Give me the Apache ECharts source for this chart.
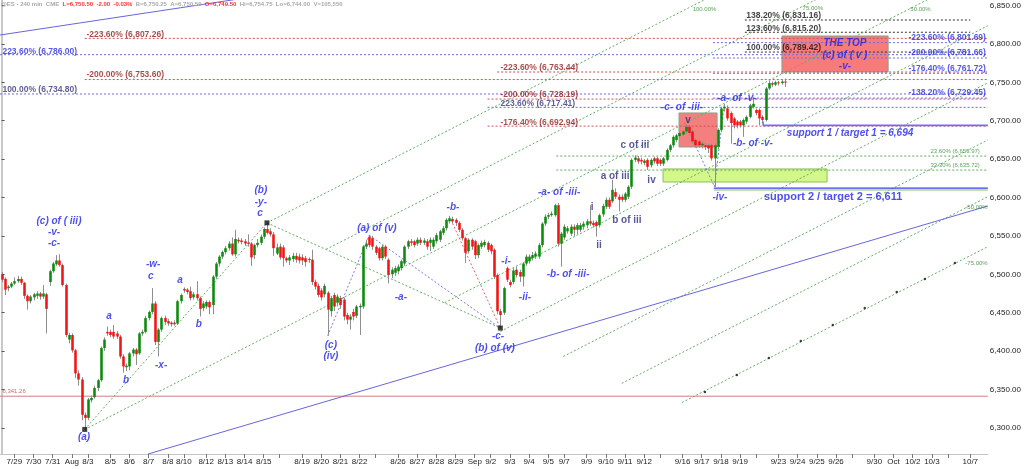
<!DOCTYPE html>
<html>
<head>
<meta charset="utf-8">
<script src="https://cdn.jsdelivr.net/npm/echarts@6/dist/echarts.min.js"></script>
<style>
  html, body { margin: 0; padding: 0; background: #fff; }
  #chart { width: 1024px; height: 469px; }
</style>
</head>
<body>
<div id="chart"></div>
<script>
// ES 240 min bars, [open, close, low, high], one row per bar from 7/28 10:00
const barsJulAug = [
  [6500,6493,6490,6503],[6494,6480,6473,6496],[6482,6484,6478,6486],[6484,6488,6482,6490],[6488,6491,6486,6496],
  [6491,6494,6489,6498],[6494,6489,6486,6497],[6489,6472,6468,6490],[6472,6465,6454,6474],[6465,6471,6462,6473],
  [6470,6474,6466,6476],[6472,6475,6468,6478],[6475,6471,6467,6477],[6471,6475,6468,6486],[6474,6455,6423,6476],
  [6490,6504,6485,6506],[6504,6514,6502,6516],[6513,6518,6511,6525],[6518,6512,6510,6526],[6512,6486,6484,6514],
  [6486,6421,6418,6488],[6415,6421,6410,6424],[6421,6401,6398,6423],[6401,6371,6365,6403],[6371,6363,6355,6375],
  [6363,6317,6310,6366],[6317,6313,6298,6320],[6313,6337,6310,6339],[6336,6339,6333,6342],[6340,6352,6338,6355],
  [6352,6362,6348,6364],[6362,6404,6360,6406],[6404,6415,6400,6418],[6425,6423,6420,6432],[6425,6421,6418,6428],
  [6425,6419,6416,6434],[6423,6419,6416,6426],[6419,6393,6390,6421],[6393,6380,6372,6396],[6379,6381,6374,6384],
  [6380,6397,6375,6399],[6397,6402,6393,6404],[6402,6396,6382,6404],[6397,6423,6395,6425],[6423,6425,6420,6428],
  [6425,6443,6423,6446],[6443,6451,6440,6453],[6451,6462,6448,6482],[6462,6412,6408,6465],[6412,6428,6393,6430]
];
const barsAug = [
  [6428,6443,6425,6445],[6443,6438,6434,6446],[6439,6436,6433,6442],[6437,6435,6432,6439],[6437,6435,6433,6440],
  [6436,6465,6434,6467],[6465,6473,6462,6475],[6481,6479,6476,6483],[6480,6477,6474,6482],[6478,6469,6466,6484],
  [6470,6474,6467,6477],[6474,6469,6466,6491],[6469,6455,6445,6471],[6456,6462,6452,6465],[6458,6464,6455,6466],
  [6464,6457,6448,6466],[6460,6497,6448,6499],[6497,6514,6494,6516],[6514,6523,6510,6525],[6523,6529,6520,6531],
  [6529,6534,6526,6537],[6534,6540,6531,6543],[6540,6526,6524,6548],[6526,6546,6523,6558],[6545,6543,6540,6548],
  [6544,6542,6539,6547],[6543,6540,6537,6546],[6541,6540,6536,6552],[6540,6522,6511,6542],[6525,6538,6520,6540],
  [6538,6541,6535,6546],[6541,6549,6538,6552],[6549,6559,6546,6561],[6559,6554,6552,6567],[6556,6552,6549,6560],
  [6552,6534,6524,6555],[6527,6535,6525,6540],[6536,6522,6519,6540],[6535,6521,6510,6538],[6521,6518,6515,6523],
  [6518,6522,6512,6525],[6520,6524,6516,6528],[6524,6519,6515,6528],[6523,6518,6514,6527],[6522,6518,6512,6526],
  [6521,6516,6510,6524],[6520,6519,6515,6522],[6519,6490,6486,6532],[6490,6484,6480,6493],[6485,6473,6470,6488]
];
const barsLateAug = [
  [6479,6470,6466,6482],[6474,6485,6470,6488],[6476,6454,6420,6478],[6452,6469,6445,6472],[6473,6458,6452,6476],
  [6463,6471,6458,6474],[6469,6460,6455,6472],[6467,6445,6440,6470],[6447,6441,6435,6450],[6441,6445,6428,6448],
  [6451,6445,6440,6455],[6446,6458,6443,6460],[6457,6459,6421,6462],[6458,6536,6455,6538],[6536,6540,6533,6545],
  [6549,6538,6535,6551],[6547,6536,6532,6550],[6536,6528,6525,6538],[6534,6521,6518,6536],[6521,6536,6518,6538],
  [6536,6523,6520,6538],[6519,6499,6488,6521],[6500,6506,6495,6509],[6502,6508,6498,6511],[6504,6510,6500,6513],
  [6508,6517,6505,6519],[6514,6536,6511,6538],[6536,6543,6533,6545],[6543,6541,6537,6546],[6543,6538,6535,6545],
  [6540,6545,6537,6548],[6545,6541,6538,6548],[6541,6544,6538,6547],[6543,6536,6532,6546],[6541,6545,6530,6548],
  [6536,6545,6533,6548],[6543,6551,6540,6554],[6545,6556,6542,6558],[6554,6560,6551,6563],[6560,6571,6557,6573],
  [6569,6573,6566,6576],[6572,6569,6566,6575],[6571,6567,6563,6573],[6567,6558,6555,6569],[6558,6547,6544,6560],
  [6547,6528,6515,6549],[6530,6545,6527,6547],[6545,6536,6532,6547],[6543,6525,6520,6545],[6525,6538,6521,6540]
];
const barsSep = [
  [6536,6541,6533,6544],[6538,6542,6535,6545],[6541,6532,6529,6543],[6538,6530,6526,6540],[6532,6497,6494,6534],
  [6499,6452,6448,6501],[6452,6447,6430,6455],[6450,6482,6447,6484],[6508,6493,6490,6510],[6490,6486,6483,6493],
  [6490,6505,6487,6508],[6506,6499,6496,6510],[6503,6497,6490,6506],[6497,6514,6484,6516],[6514,6523,6511,6526],
  [6517,6523,6514,6526],[6521,6525,6518,6529],[6523,6527,6520,6530],[6523,6538,6520,6541],[6538,6566,6535,6568],
  [6566,6575,6563,6578],[6575,6577,6572,6580],[6577,6579,6575,6582],[6577,6590,6575,6592],[6590,6540,6536,6593],
  [6540,6553,6510,6555],[6548,6562,6545,6565],[6556,6560,6553,6563],[6553,6562,6550,6565],[6562,6558,6550,6565],
  [6558,6564,6552,6567],[6558,6564,6555,6567],[6562,6566,6558,6569],[6564,6569,6560,6572],[6569,6566,6563,6590],
  [6567,6564,6561,6570],[6568,6563,6549,6570],[6564,6577,6561,6579],[6578,6589,6575,6592],[6588,6597,6585,6600],
  [6597,6588,6585,6600],[6595,6610,6593,6623],[6607,6601,6598,6612],[6601,6597,6582,6604],[6601,6597,6594,6604],
  [6597,6605,6594,6607],[6601,6614,6598,6616],[6614,6649,6611,6651],[6649,6652,6646,6655],[6651,6647,6644,6654]
];
const barsLateSep = [
  [6649,6647,6643,6652],[6645,6648,6642,6650],[6649,6640,6636,6651],[6642,6649,6639,6651],[6651,6647,6644,6653],
  [6651,6644,6641,6653],[6649,6644,6641,6651],[6644,6651,6641,6653],[6649,6662,6647,6664],[6662,6668,6659,6670],
  [6668,6679,6665,6681],[6675,6681,6672,6683],[6680,6684,6678,6686],[6682,6686,6680,6688],[6686,6692,6683,6695],
  [6692,6684,6681,6694],[6686,6673,6670,6688],[6675,6668,6665,6677],[6673,6668,6665,6675],[6668,6670,6664,6673],
  [6668,6666,6662,6671],[6668,6664,6658,6670],[6668,6651,6648,6670],[6651,6668,6614,6670],[6666,6688,6663,6690],
  [6688,6716,6685,6718],[6716,6718,6712,6722],[6716,6703,6700,6720],[6710,6697,6670,6712],[6703,6694,6690,6705],
  [6699,6694,6690,6701],[6699,6694,6691,6701],[6694,6701,6679,6703],[6699,6705,6696,6707],[6705,6720,6703,6722],
  [6718,6722,6716,6731],[6714,6710,6707,6716],[6714,6703,6694,6716],[6705,6701,6697,6707],[6701,6742,6699,6744],
  [6742,6749,6740,6752],[6749,6747,6744,6751],[6747,6750,6745,6752],[6750,6749,6746,6752],[6749,6751,6747,6753],
  [6751,6750.5,6744,6755]
];
const bars = [].concat(barsJulAug, barsAug, barsLateAug, barsSep, barsLateSep);

// y axis ticks
const yTicks = [6300, 6350, 6400, 6450, 6500, 6550, 6600, 6650, 6700, 6750, 6800, 6850];

// x axis: date labels shown on the first bar of a date
const dateLabels = {
  '7/29':'7/29','7/30':'7/30','7/31':'7/31','8/1':'Aug','8/3':'8/3','8/5':'8/5','8/6':'8/6','8/7':'8/7',
  '8/8':'8/8','8/10':'8/10','8/12':'8/12','8/13':'8/13','8/14':'8/14','8/15':'8/15','8/19':'8/19',
  '8/20':'8/20','8/21':'8/21','8/22':'8/22','8/26':'8/26','8/27':'8/27','8/28':'8/28','8/29':'8/29',
  '9/1':'Sep','9/2':'9/2','9/3':'9/3','9/4':'9/4','9/5':'9/5','9/7':'9/7','9/9':'9/9','9/10':'9/10',
  '9/11':'9/11','9/12':'9/12','9/16':'9/16','9/17':'9/17','9/18':'9/18','9/19':'9/19','9/23':'9/23',
  '9/24':'9/24','9/25':'9/25','9/26':'9/26','9/30':'9/30','10/1':'Oct','10/2':'10/2','10/3':'10/3','10/7':'10/7'
};
const tickOnlyDates = ['8/17', '8/24', '9/14', '9/21', '9/28', '10/5'];

// fib / target levels: [price, first bar]
const redLevels = [[6807.26, 26], [6753.60, 26], [6763.44, 155], [6728.19, 152], [6692.94, 152]];
const blueLevels = [[6786.00, -0.5], [6734.80, -0.5], [6717.41, 152], [6801.69, 222.5], [6781.66, 222.5], [6761.72, 222.5], [6729.45, 222.5]];
const blackLevels = [[6831.16, 232.5], [6815.20, 232.5], [6789.42, 232.5]];
const greenLevels = [[6653.97, 173.5], [6635.72, 173.5]];

// pitchfork and wave connector lines, [bar, price] pairs
const forkLines = [
  [[83, 6567], [308.5, 7045.7]],
  [[101.5, 6532.5], [308.5, 6972]],
  [[26, 6298], [308.5, 6897.7]],
  [[138.6, 6463], [308.5, 6823.7]],
  [[156, 6425.6], [308.5, 6749.4]],
  [[175.7, 6393], [308.5, 6674.9]],
  [[194, 6358], [308.5, 6601.1]],
  [[212.8, 6333], [308.5, 6536]],
  [[26, 6298], [83, 6567]],
  [[83, 6567], [156, 6430]]
];
const blueDotted = [
  [[102, 6420], [115, 6551]],
  [[115, 6551], [156, 6430]],
  [[214, 6695], [223, 6614]],
  [[223, 6614], [226, 6720]]
];
const redDotted = [[[140, 6576], [156, 6430]]];
const trendLines = [
  [[45.8, 6266], [308.5, 6589]],
  [[-0.5, 6811.6], [80, 6862.2]]
];
const pivots = [[26, 6298], [83, 6567], [156, 6430]];
const forkDots = [[220, 6346.8], [230, 6369], [240, 6391], [250, 6413], [260, 6434], [270, 6456], [280, 6477], [288.8, 6494], [298.2, 6514.8]];

// boxes: [bar from, bar to, price low, price high]
const boxes = [[244.1, 277.3, 6763.5, 6810.3], [211.9, 223.8, 6665.8, 6710.1], [206.9, 258.2, 6620.2, 6637.2]];
const boxFill = ['#f77b7b', '#f47f7f', '#d4f78c'];
const boxStroke = ['#86a086', '#8aa08a', '#8cc050'];

// texts: [text, bar, price]
const waveTexts = [
  ['(c) of ( iii)', 17.95, 6569.5], ['-v-', 16.4, 6555.1], ['-c-', 16.4, 6540.8],
  ['a', 33.6, 6445.8], ['b', 38.9, 6362.4], ['-w-', 47.4, 6513.5], ['c', 46.7, 6497.8],
  ['-x-', 49.9, 6382], ['a', 55.8, 6492.6], ['b', 61.7, 6435.4],
  ['(b)', 81.1, 6609.8], ['-y-', 81.1, 6594.2], ['c', 80.8, 6579.9], ['(a)', 25.8, 6288.2],
  ['(c)', 103, 6408], ['(iv)', 103, 6393.7], ['(a) of (v)', 117.4, 6560.3], ['-a-', 124.9, 6470.5],
  ['-b-', 141.2, 6587.7], ['-c-', 155.3, 6419.7], ['(b) of (v)', 154.3, 6404.1],
  ['-i-', 157.8, 6517.4], ['-ii-', 163.7, 6470.5], ['-a- of -iii-', 174.4, 6607.2],
  ['-b- of -iii-', 177.2, 6500.5], ['-c- of -iii-', 212.8, 6717.9], ['-iv-', 224.7, 6600.7],
  ['-a- of -v-', 230, 6729.6], ['-b- of -v-', 235, 6671],
  ['THE TOP', 263.8, 6801.2], ['(c) of ( v )', 263.8, 6785.6], ['-v-', 263.8, 6771.3],
  ['support 1 / target 1 = 6,694', 265.4, 6683.6]
];
const subWaveTexts = [
  ['i', 184.7, 6587.7], ['ii', 186.9, 6538.2], ['a of iii', 191.9, 6628], ['b of iii', 195.6, 6569.9],
  ['c of iii', 198.1, 6668.4], ['iv', 203.3, 6622.8], ['v', 214.7, 6701]
];
const redLevelTexts = [
  ['-223.60% (6,807.26)', 26.4, 6812.5], ['-200.00% (6,753.60)', 26.4, 6759.5],
  ['-223.60% (6,763.44)', 155.9, 6768.7], ['-200.00% (6,728.19)', 155.9, 6733.5],
  ['-176.40% (6,692.94)', 155.9, 6697.7]
];
const blueLevelTexts = [
  ['223.60% (6,786.00)', 0.1, 6789.9], ['-223.60% (6,801.69)', 283.5, 6807.7],
  ['-200.00% (6,781.66)', 283.5, 6788.2], ['-176.40% (6,761.72)', 283.5, 6767.4],
  ['-138.20% (6,729.45)', 283.5, 6736.1]
];
const navyLevelTexts = [['100.00% (6,734.80)', 0.1, 6740], ['223.60% (6,717.41)', 155.9, 6722.4]];
const blackLevelTexts = [['138.20% (6,831.16)', 232.8, 6837.3], ['123.60% (6,815.20)', 232.8, 6820.3], ['100.00% (6,789.42)', 232.8, 6795.1]];
const greenTexts = [
  ['23.60% (6,653.97)', 290.4, 6659.6], ['33.30% (6,635.72)', 290.4, 6642.4],
  ['100.00%', 216, 6845.5], ['75.00%', 250.4, 6846.8], ['50.00%', 284.1, 6845.5],
  ['-50.00%', 301.3, 6587.7], ['-75.00%', 301.3, 6514.8]
];
const lowLevel = 6341.26;
const lastPrice = 6750.5;
const support1 = 6694;
const support2 = 6611;

// ---- x categories: 240 min sessions, 22:00 prior evening + day bars
const md = d => (d.getMonth() + 1) + '/' + d.getDate();
const allCats = [], allDates = [];
for (let d = new Date(2025, 6, 28); d <= new Date(2025, 9, 8); d.setDate(d.getDate() + 1)) {
  const wd = d.getDay();
  if (wd === 0 || wd === 6) continue;
  const prev = new Date(d); prev.setDate(prev.getDate() - 1);
  allCats.push(md(prev) + ' 22'); allDates.push(md(prev));
  const hours = md(d) === '9/1' ? ['02', '06', '10', '13'] : ['02', '06', '10', '14', '17'];
  hours.forEach(h => { allCats.push(md(d) + ' ' + h); allDates.push(md(d)); });
}
const start = allCats.indexOf('7/28 10');
const N = 309;
const cats = allCats.slice(start, start + N);
const catDates = allDates.slice(start, start + N);
const isFirst = i => i === 0 || catDates[i] !== catDates[i - 1];
const showLabel = i => isFirst(i) && dateLabels[catDates[i]] !== undefined;
const showTick = i => showLabel(i) || (isFirst(i) && tickOnlyDates.includes(catDates[i]));

const FONT = 'Arial, "Liberation Sans", sans-serif';

function segSeries(segs, color, type, width, z) {
  return segs.map(s => ({
    type: 'line', xAxisIndex: 1, data: s, symbol: 'none', silent: true, z: z || 2,
    lineStyle: { color: color, width: width || 1, type: type }
  }));
}
function levelSeries(levels, color, end) {
  return segSeries(levels.map(l => [[l[1], l[0]], [end || 308.5, l[0]]]), color, [2, 2], 1, 2);
}
function textSeries(items, label, pos) {
  return {
    type: 'scatter', xAxisIndex: 1, symbolSize: 1, silent: true, z: 6,
    itemStyle: { color: 'transparent' },
    data: items.map(t => ({ value: [t[1], t[2]], name: t[0] })),
    label: Object.assign({ show: true, position: pos || 'inside', distance: 0, fontFamily: FONT, formatter: p => p.name }, label)
  };
}

function renderCandle(params, api) {
  const i = api.value(0);
  const o = api.value(1), c = api.value(2), l = api.value(3), h = api.value(4);
  const pO = api.coord([i, o]), pC = api.coord([i, c]);
  const pL = api.coord([i, l]), pH = api.coord([i, h]);
  const w = api.size([1, 0])[0] * 0.8;
  const x = Math.round(pO[0]) + 0.5;
  const top = Math.min(pO[1], pC[1]);
  const hgt = Math.max(1, Math.abs(pO[1] - pC[1]));
  return {
    type: 'group',
    children: [
      { type: 'line', shape: { x1: x, y1: pH[1], x2: x, y2: pL[1] }, style: { stroke: '#8e8e8e', lineWidth: 1 } },
      { type: 'rect', shape: { x: x - w / 2, y: top, width: w, height: hgt }, style: { fill: c >= o ? '#0b8a0b' : '#f21414' } }
    ]
  };
}

function renderBox(params, api) {
  const p1 = api.coord([api.value(0), api.value(3)]);
  const p2 = api.coord([api.value(1), api.value(2)]);
  return {
    type: 'rect',
    shape: { x: p1[0], y: p1[1], width: p2[0] - p1[0], height: p2[1] - p1[1] },
    style: { fill: boxFill[params.dataIndex], stroke: boxStroke[params.dataIndex], lineWidth: 1 }
  };
}

const blueItalic = { color: '#2323e8', fontSize: 10, fontWeight: 'bold', fontStyle: 'italic' };

const series = [].concat(
  [{ type: 'custom', xAxisIndex: 1, z: 1, silent: true, data: boxes, renderItem: renderBox }],
  levelSeries(redLevels, '#d05050'),
  levelSeries(blueLevels, '#6a6ae8'),
  levelSeries(blackLevels, '#333333', 303),
  levelSeries(greenLevels, '#60a860'),
  segSeries([[[-0.5, lowLevel], [308.5, lowLevel]]], '#cf7f7f', 'solid', 1),
  segSeries(forkLines, '#63b063', [2, 2], 1),
  segSeries(blueDotted, '#7b7be0', [2, 2], 1),
  segSeries(redDotted, '#d66a6a', [2, 2], 1),
  segSeries(trendLines, '#6666dd', 'solid', 1),
  segSeries([[[238.2, support1 + 5], [238.2, support1], [308.5, support1]]], '#6f6ff5', 'solid', 1.6, 3),
  segSeries([[[222.8, support2 + 1.3], [308.5, support2 + 1.3]]], '#3c3cf0', 'solid', 1.2, 3),
  segSeries([[[222.8, support2 - 1.3], [308.5, support2 - 1.3]]], '#a8d890', 'solid', 1.5, 3),
  [{
    type: 'custom', xAxisIndex: 1, z: 4, silent: true,
    data: bars.map((b, i) => [i, b[0], b[1], b[2], b[3]]),
    renderItem: renderCandle
  }],
  [{
    type: 'scatter', xAxisIndex: 1, symbol: 'rect', symbolSize: 5, silent: true, z: 5,
    itemStyle: { color: '#111' }, data: pivots
  }, {
    type: 'scatter', xAxisIndex: 1, symbol: 'circle', symbolSize: 2.5, silent: true, z: 5,
    itemStyle: { color: '#111' }, data: forkDots
  }, {
    type: 'line', xAxisIndex: 1, data: [], silent: true,
    markLine: {
      symbol: 'none', silent: true, animation: false,
      lineStyle: { opacity: 0 },
      data: [{ yAxis: lastPrice }],
      label: {
        position: 'end', distance: 2, formatter: '6,750.50', color: '#fff', backgroundColor: '#ff2424',
        padding: [2, 2, 1, 2], fontSize: 9, fontWeight: 'bold', fontFamily: FONT
      }
    }
  }],
  [textSeries(waveTexts, blueItalic)],
  [textSeries([['support 2 / target 2 = 6,611', 260.1, 6601]], { color: '#2323e8', fontSize: 11, fontWeight: 'bold' })],
  [textSeries(subWaveTexts, { color: '#2e2e80', fontSize: 10, fontWeight: 'bold' })],
  [textSeries(redLevelTexts, { color: '#8e1c1c', fontSize: 8.5, fontWeight: 'bold' }, 'right')],
  [textSeries(blueLevelTexts, { color: '#2a2ae0', fontSize: 8.5, fontWeight: 'bold' }, 'right')],
  [textSeries(navyLevelTexts, { color: '#34347e', fontSize: 8.5, fontWeight: 'bold' }, 'right')],
  [textSeries(blackLevelTexts, { color: '#111', fontSize: 8.5, fontWeight: 'bold' }, 'right')],
  [textSeries(greenTexts, { color: '#2f8a2f', fontSize: 6 }, 'right')],
  [textSeries([['6,341.26', 0.1, 6347]], { color: '#b04a4a', fontSize: 6 }, 'right')]
);

const chart = echarts.init(document.getElementById('chart'));
chart.setOption({
  animation: false,
  backgroundColor: '#fff',
  title: {
    text: '{g|@ES - 240 min  CME  }{r|L=6,750.50  -2.00  -0.03%}{g|  B=6,750.25  A=6,750.50  }{r|O=6,749.50}{g|  Hi=6,754.75  Lo=6,744.00  V=105,550}',
    left: 1, top: 1, padding: 0,
    textStyle: {
      fontSize: 6, fontFamily: FONT,
      rich: {
        g: { color: '#a9a9a9', fontSize: 6, fontWeight: 'bold', fontFamily: FONT },
        r: { color: '#ff3030', fontSize: 6, fontWeight: 'bold', fontFamily: FONT }
      }
    }
  },
  grid: { left: 0, right: 36, top: 0, bottom: 15, containLabel: false },
  xAxis: [{
    type: 'category', data: cats, boundaryGap: true,
    axisLine: { lineStyle: { color: '#c4c4c4', width: 1 } },
    axisTick: { show: true, alignWithLabel: true, length: 4, interval: i => showTick(i), lineStyle: { color: '#777' } },
    axisLabel: {
      interval: i => showLabel(i), margin: 4, fontSize: 8, color: '#222', fontFamily: FONT,
      formatter: (v, i) => dateLabels[catDates[i]] || ''
    },
    splitLine: { show: false }
  }, {
    type: 'value', min: -0.5, max: N - 0.5, show: false
  }],
  yAxis: {
    type: 'value', position: 'right', min: 6266, max: 6857.2, scale: true,
    axisLine: { show: true, lineStyle: { color: '#c8c8c8', width: 2 } },
    axisTick: { show: true, length: 3, customValues: yTicks, lineStyle: { color: '#555' } },
    axisLabel: {
      customValues: yTicks, margin: 2, fontSize: 8, color: '#222', fontFamily: FONT,
      formatter: v => v.toLocaleString('en-US', { minimumFractionDigits: 2, maximumFractionDigits: 2 })
    },
    splitLine: { show: false }
  },
  series: series
});
</script>
</body>
</html>
